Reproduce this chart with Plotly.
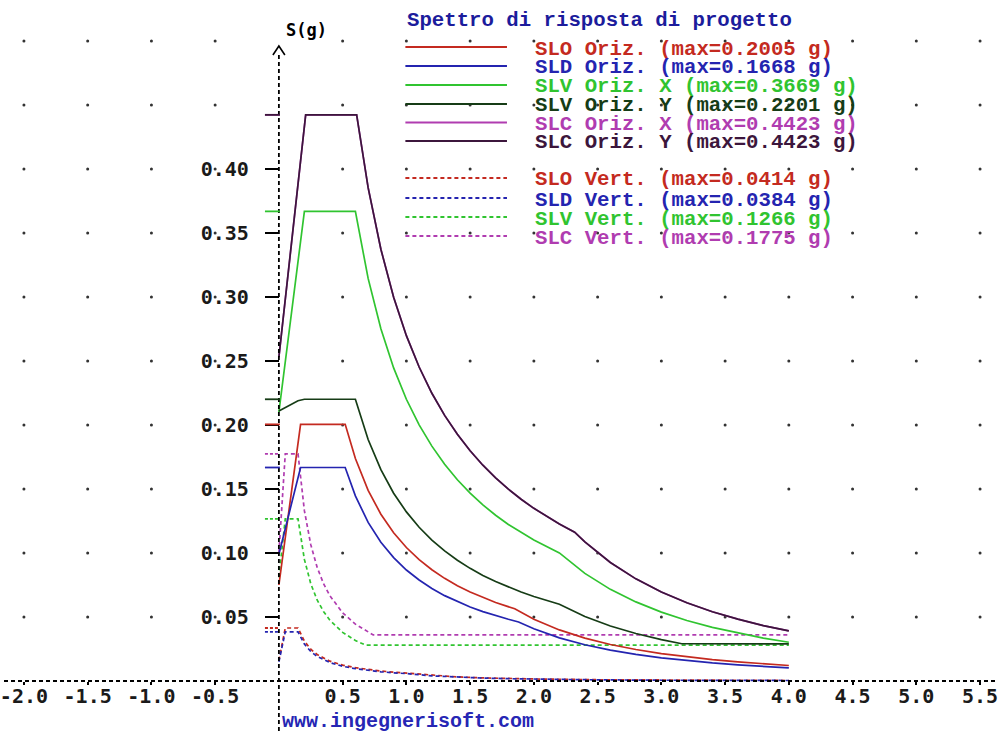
import plotly.graph_objects as go

# ---------------- data ----------------
T_SLO_O = [0, 0.17, 0.52, 0.6, 0.7, 0.8, 0.9, 1.0, 1.1, 1.2, 1.3, 1.4, 1.5, 1.6, 1.7, 1.85,
           2.0, 2.2, 2.4, 2.6, 2.8, 3.0, 3.2, 3.4, 3.6, 3.8, 4.0]
S_SLO_O = [0.075, 0.2005, 0.2005, 0.1738, 0.1489, 0.1303, 0.1158, 0.1043, 0.0948, 0.0869, 0.0802,
           0.0745, 0.0695, 0.0652, 0.0613, 0.0564, 0.0482, 0.0399, 0.0335, 0.0285, 0.0246, 0.0214,
           0.0188, 0.0167, 0.0149, 0.0134, 0.0121]

T_SLD_O = [0, 0.17, 0.52, 0.6, 0.7, 0.8, 0.9, 1.0, 1.1, 1.2, 1.3, 1.4, 1.5, 1.6, 1.7, 1.8, 1.88,
           2.0, 2.2, 2.4, 2.6, 2.8, 3.0, 3.2, 3.4, 3.6, 3.8, 4.0]
S_SLD_O = [0.099, 0.1668, 0.1668, 0.1446, 0.1239, 0.1084, 0.0964, 0.0867, 0.0789, 0.0723, 0.0667,
           0.0620, 0.0578, 0.0542, 0.0510, 0.0482, 0.0461, 0.0408, 0.0337, 0.0283, 0.0241, 0.0208,
           0.0181, 0.0159, 0.0141, 0.0126, 0.0113, 0.0102]

T_SLV_X = [0, 0.2, 0.6, 0.7, 0.8, 0.9, 1.0, 1.1, 1.2, 1.3, 1.4, 1.5, 1.6, 1.7, 1.8, 1.9, 2.0,
           2.2, 2.4, 2.6, 2.8, 3.0, 3.2, 3.4, 3.6, 3.8, 4.0]
S_SLV_X = [0.210, 0.3669, 0.3669, 0.3145, 0.2752, 0.2446, 0.2201, 0.2001, 0.1835, 0.1693, 0.1572,
           0.1468, 0.1376, 0.1295, 0.1223, 0.1159, 0.1101, 0.1001, 0.0841, 0.0716, 0.0618, 0.0538,
           0.0473, 0.0419, 0.0374, 0.0335, 0.0303]

T_SLV_Y = [0, 0.05, 0.1, 0.15, 0.2, 0.6, 0.7, 0.8, 0.9, 1.0, 1.1, 1.2, 1.3, 1.4, 1.5, 1.6, 1.7,
           1.8, 1.9, 2.0, 2.2, 2.4, 2.6, 2.8, 3.0, 3.16, 3.4, 3.6, 3.8, 4.0]
S_SLV_Y = [0.211, 0.2135, 0.2165, 0.2190, 0.2201, 0.2201, 0.1887, 0.1651, 0.1467, 0.1321, 0.1201,
           0.1101, 0.1016, 0.0943, 0.0880, 0.0825, 0.0777, 0.0734, 0.0695, 0.0660, 0.0600, 0.0504,
           0.0430, 0.0371, 0.0323, 0.0291, 0.029, 0.029, 0.029, 0.029]

T_SLC = [0, 0.21, 0.61, 0.7, 0.8, 0.9, 1.0, 1.1, 1.2, 1.3, 1.4, 1.5, 1.6, 1.7, 1.8, 1.9, 2.0, 2.1,
         2.2, 2.32, 2.4, 2.6, 2.8, 3.0, 3.2, 3.4, 3.6, 3.8, 4.0]
S_SLC_X = [0.253, 0.4423, 0.4423, 0.3854, 0.3373, 0.2998, 0.2698, 0.2453, 0.2248, 0.2075, 0.1927,
           0.1799, 0.1686, 0.1587, 0.1499, 0.1420, 0.1349, 0.1285, 0.1226, 0.1163, 0.1087, 0.0926,
           0.0798, 0.0695, 0.0611, 0.0541, 0.0483, 0.0433, 0.0391]
S_SLC_Y = [0.253, 0.4423, 0.4423, 0.3854, 0.3373, 0.2998, 0.2698, 0.2453, 0.2248, 0.2075, 0.1927,
           0.1799, 0.1686, 0.1587, 0.1499, 0.1420, 0.1349, 0.1285, 0.1226, 0.1163, 0.1087, 0.0926,
           0.0798, 0.0695, 0.0611, 0.0541, 0.0483, 0.0433, 0.0391]

T_VERT_LOW = [0, 0.05, 0.15, 0.2, 0.25, 0.3, 0.4, 0.5, 0.6, 0.7, 0.8, 0.9, 1.0, 1.2, 1.4, 1.6,
              1.8, 2.0, 2.5, 3.0, 3.5, 4.0]
S_SLO_V = [0.016, 0.0414, 0.0414, 0.0311, 0.0248, 0.0207, 0.0155, 0.0124, 0.0104, 0.0089, 0.0078,
           0.0069, 0.0062, 0.0043, 0.0032, 0.0024, 0.0019, 0.0016, 0.0010, 0.0007, 0.0005, 0.0004]
S_SLD_V = [0.015, 0.0384, 0.0384, 0.0288, 0.0230, 0.0192, 0.0144, 0.0115, 0.0096, 0.0082, 0.0072,
           0.0064, 0.0058, 0.0040, 0.0029, 0.0023, 0.0018, 0.0014, 0.0009, 0.0006, 0.0005, 0.0004]

T_SLV_V = [0, 0.05, 0.15, 0.2, 0.25, 0.3, 0.35, 0.4, 0.5, 0.6, 0.68, 4.0]
S_SLV_V = [0.081, 0.1266, 0.1266, 0.0950, 0.0760, 0.0633, 0.0543, 0.0475, 0.0380, 0.0317, 0.028, 0.028]

T_SLC_V = [0, 0.05, 0.15, 0.2, 0.25, 0.3, 0.35, 0.4, 0.5, 0.6, 0.74, 4.0]
S_SLC_V = [0.100, 0.1775, 0.1775, 0.1331, 0.1065, 0.0888, 0.0761, 0.0666, 0.0533, 0.0444, 0.036, 0.036]

X_TICKS = [-2.0, -1.5, -1.0, -0.5, 0.5, 1.0, 1.5, 2.0, 2.5, 3.0, 3.5, 4.0, 4.5, 5.0, 5.5]
X_TICK_TEXT = ["-2.0", "-1.5", "-1.0", "-0.5", "0.5", "1.0", "1.5", "2.0", "2.5", "3.0", "3.5",
               "4.0", "4.5", "5.0", "5.5"]
Y_TICKS = [0.05, 0.10, 0.15, 0.20, 0.25, 0.30, 0.35, 0.40]
Y_TICK_TEXT = ["0.05", "0.10", "0.15", "0.20", "0.25", "0.30", "0.35", "0.40"]

TITLE = "Spettro di risposta di progetto"
Y_LABEL = "S(g)"
URL = "www.ingegnerisoft.com"

# ---------------- styling ----------------
RED, BLUE, GREEN = "#c42a20", "#2424b0", "#30c430"
DKGREEN, MAGENTA, PURPLE = "#163c16", "#b03cb0", "#3c163c"

series = [
    # (T, S, color, dashed, label)
    (T_SLO_O, S_SLO_O, RED, False, "SLO Oriz. (max=0.2005 g)"),
    (T_SLD_O, S_SLD_O, BLUE, False, "SLD Oriz. (max=0.1668 g)"),
    (T_SLV_X, S_SLV_X, GREEN, False, "SLV Oriz. X (max=0.3669 g)"),
    (T_SLV_Y, S_SLV_Y, DKGREEN, False, "SLV Oriz. Y (max=0.2201 g)"),
    (T_SLC, S_SLC_X, MAGENTA, False, "SLC Oriz. X (max=0.4423 g)"),
    (T_SLC, S_SLC_Y, PURPLE, False, "SLC Oriz. Y (max=0.4423 g)"),
    (T_VERT_LOW, S_SLO_V, RED, True, "SLO Vert. (max=0.0414 g)"),
    (T_VERT_LOW, S_SLD_V, BLUE, True, "SLD Vert. (max=0.0384 g)"),
    (T_SLV_V, S_SLV_V, GREEN, True, "SLV Vert. (max=0.1266 g)"),
    (T_SLC_V, S_SLC_V, MAGENTA, True, "SLC Vert. (max=0.1775 g)"),
]

W, H = 998, 731
X0PX, Y0PX = 276, 681          # pixel position of the origin
PXX, PXY = 128, 1280           # pixels per unit
xr = [(0 - X0PX) / PXX, (W - X0PX) / PXX]
yr = [(Y0PX - H) / PXY, Y0PX / PXY]


def fx(p):
    return p / W


def fy(p):
    return 1 - p / H


DASH = "4px,3px"
fig = go.Figure()

# dot grid
gx, gy = [], []
for i in range(-4, 12):
    for j in range(1, 11):
        if i == 0:
            continue
        gx.append(i * 0.5)
        gy.append(j * 0.05)
fig.add_trace(go.Scatter(x=gx, y=gy, mode="markers", hoverinfo="skip",
                         marker=dict(size=3, color="#333333", line=dict(width=0))))

# draw order: vertical spectra first, then horizontal
order = [6, 7, 8, 9, 0, 1, 2, 3, 4, 5]
for k in order:
    T, S, col, dashed, lab = series[k]
    fig.add_trace(go.Scatter(x=T, y=S, mode="lines", name=lab, hoverinfo="skip",
                             line=dict(color=col, width=1.7, dash=DASH if dashed else "solid")))

shapes = []
# x axis (dashed)
shapes.append(dict(type="line", xref="paper", yref="y", x0=0, x1=1, y0=0, y1=0,
                   line=dict(color="black", width=1.8, dash=DASH)))
# y axis (dashed) with arrow
shapes.append(dict(type="line", xref="x", yref="paper", x0=0, x1=0, y0=0, y1=fy(52),
                   line=dict(color="black", width=1.8, dash=DASH)))
shapes.append(dict(type="path", xref="paper", yref="paper",
                   path=f"M {fx(270)},{fy(55)} L {fx(276)},{fy(46)} L {fx(282)},{fy(55)}",
                   line=dict(color="black", width=1.6)))
# coloured max markers on the y axis
for T, S, col, dashed, lab in series:
    shapes.append(dict(type="line", xref="paper", yref="y", x0=fx(262), x1=fx(277),
                       y0=max(S), y1=max(S),
                       line=dict(color=col, width=1.8, dash="3px,2px" if dashed else "solid")))

# legend lines
leg_y = [47, 66, 85, 104, 122.5, 141, 178, 198, 217, 236]
annotations = []
for (T, S, col, dashed, lab), yy in zip(series, leg_y):
    shapes.append(dict(type="line", xref="paper", yref="paper", x0=fx(403), x1=fx(505),
                       y0=fy(yy), y1=fy(yy),
                       line=dict(color=col, width=1.8, dash=DASH if dashed else "solid")))
    annotations.append(dict(xref="paper", yref="paper", x=fx(531), y=fy(yy + 2),
                            xanchor="left", yanchor="middle", showarrow=False, text=lab,
                            font=dict(family="Liberation Mono", size=20.7, color=col,
                                      weight="bold")))

annotations.append(dict(xref="paper", yref="paper", x=fx(403), y=fy(21), xanchor="left",
                        yanchor="middle", showarrow=False, text=TITLE,
                        font=dict(family="Liberation Mono", size=20.7, color="#1c1c9c",
                                  weight="bold")))
annotations.append(dict(xref="paper", yref="paper", x=fx(281), y=fy(30), xanchor="left",
                        yanchor="middle", showarrow=False, text=Y_LABEL,
                        font=dict(family="DejaVu Sans Mono", size=17, color="black",
                                  weight="bold")))
annotations.append(dict(xref="paper", yref="paper", x=fx(277), y=fy(721), xanchor="left",
                        yanchor="middle", showarrow=False, text=URL,
                        font=dict(family="Liberation Mono", size=20, color="#2626b4",
                                  weight="bold")))

tickfont = dict(family="DejaVu Sans Mono", size=20, color="#1a1a1a", weight="bold")
fig.update_layout(
    width=W, height=H, margin=dict(l=0, r=0, t=0, b=0),
    paper_bgcolor="white", plot_bgcolor="white", showlegend=False,
    xaxis=dict(range=xr, anchor="free", position=(H - Y0PX) / H, showgrid=False,
               zeroline=False, showline=False, tickmode="array", tickvals=X_TICKS,
               ticktext=X_TICK_TEXT, ticks="outside", ticklen=3, tickwidth=1.5,
               tickcolor="black", tickfont=tickfont, ticklabelstandoff=-6,
               ticklabeloverflow="allow", fixedrange=True),
    yaxis=dict(range=yr, anchor="free", position=X0PX / W, showgrid=False,
               zeroline=False, showline=False, tickmode="array", tickvals=Y_TICKS,
               ticktext=Y_TICK_TEXT, ticks="outside", ticklen=14, tickwidth=2,
               tickcolor="black", tickfont=tickfont, ticklabelstandoff=12,
               ticklabeloverflow="allow", fixedrange=True),
    shapes=shapes, annotations=annotations,
)

fig.write_html("out.html", config={"displayModeBar": False},
               post_script="document.body.style.margin='0px';document.body.style.overflow='hidden';")
